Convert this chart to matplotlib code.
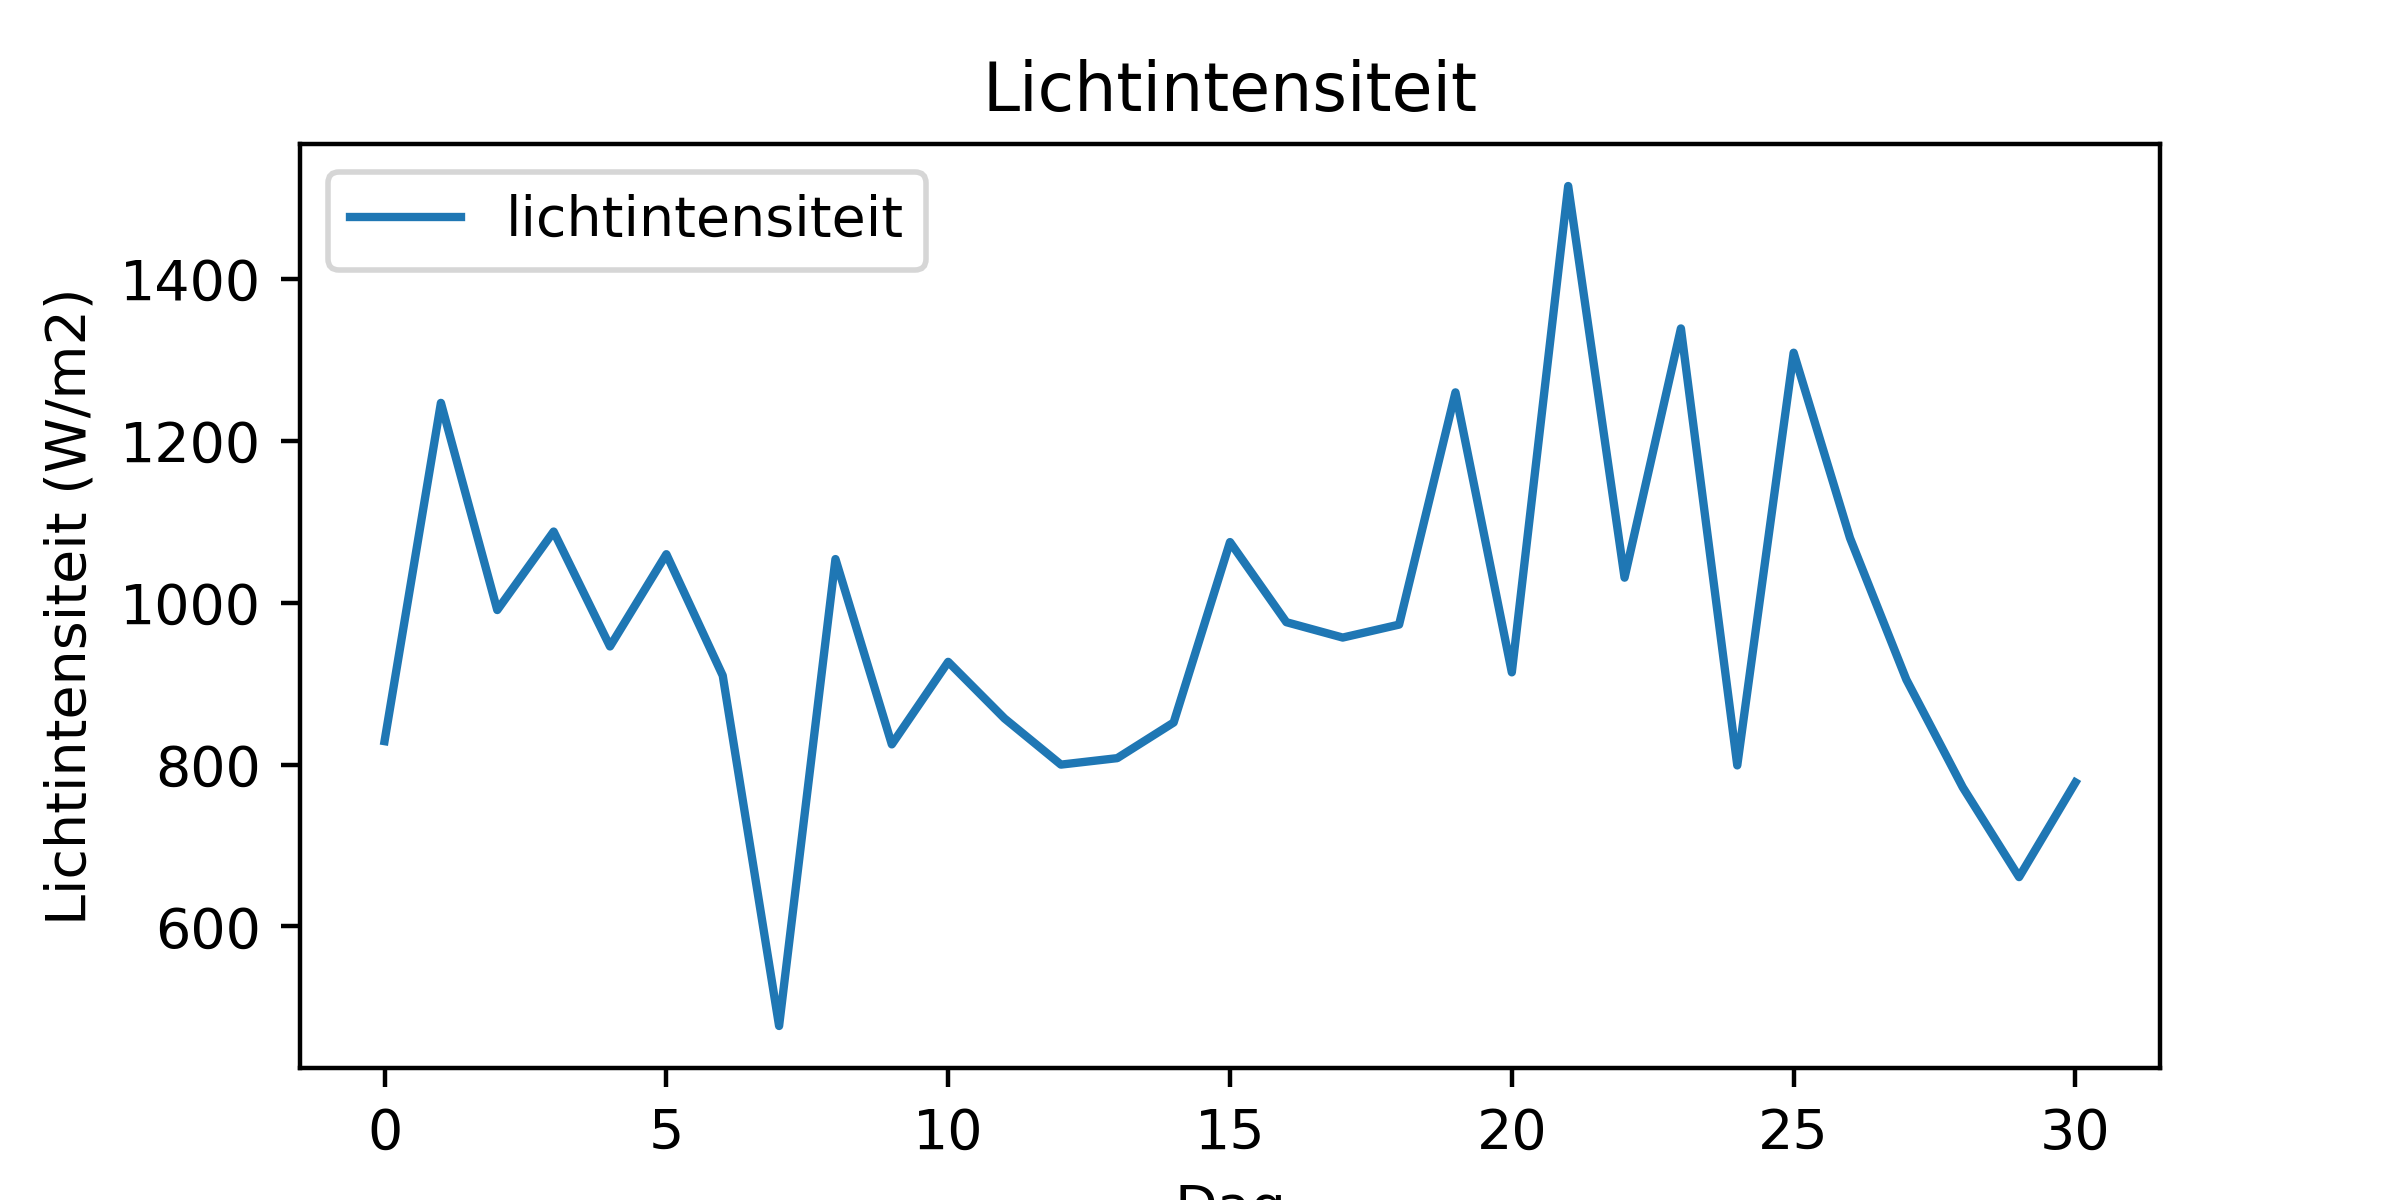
import numpy as np
import matplotlib
matplotlib.use("Agg")
import matplotlib.pyplot as plt

# daily light intensity readings
dagen = list(range(31))
lichtintensiteit = [829, 1247, 991, 1088, 946, 1060, 910, 477, 1054, 825,
                    927, 857, 800, 808, 852, 1075, 976, 957, 973, 1260,
                    914, 1515, 1031, 1339, 799, 1309, 1080, 905, 772, 661,
                    778]

fig, ax = plt.subplots(figsize=(6, 3))
ax.plot(dagen, lichtintensiteit, label="lichtintensiteit")
ax.set_title("Lichtintensiteit")
ax.set_xlabel("Dag")
ax.set_ylabel("Lichtintensiteit (W/m2)")
ax.legend(loc="upper left")
fig.savefig("out.png", dpi=400)
